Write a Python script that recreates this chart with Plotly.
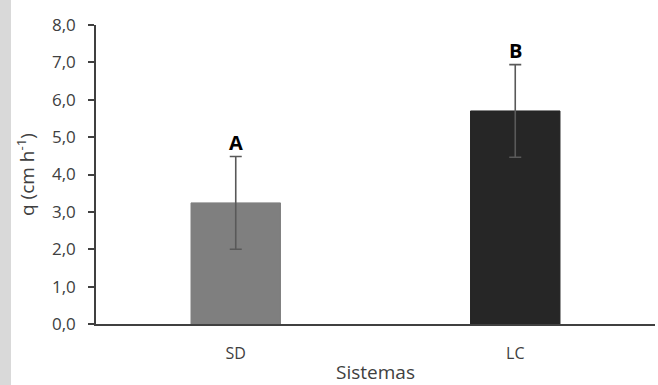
import plotly.graph_objects as go

categories = ["SD", "LC"]
values = [3.24, 5.70]
errors = [1.24, 1.24]
letters = ["A", "B"]
colors = ["#7f7f7f", "#262626"]
y_ticks = [0, 1, 2, 3, 4, 5, 6, 7, 8]
y_tick_labels = ["0,0", "1,0", "2,0", "3,0", "4,0", "5,0", "6,0", "7,0", "8,0"]

fig = go.Figure()
fig.add_trace(go.Bar(
    x=categories, y=values,
    marker=dict(color=colors, line=dict(color=colors, width=1)),
    width=0.32,
    error_y=dict(type="data", array=errors, visible=True,
                 color="#595959", thickness=1.6, width=6),
    showlegend=False,
))

for c, v, e, t in zip(categories, values, errors, letters):
    fig.add_annotation(x=c, y=v + e, text="<b>%s</b>" % t, showarrow=False,
                       yanchor="bottom", yshift=-1,
                       font=dict(size=20, color="#000000", family="Open Sans"))

fig.add_shape(type="rect", xref="paper", yref="paper",
              x0=-96 / 559, x1=-85 / 559, y0=-61 / 299, y1=1 + 25 / 299,
              fillcolor="#d9d9d9", line=dict(width=0), layer="below")

fig.update_layout(
    width=658, height=385,
    margin=dict(l=96, r=3, t=25, b=61),
    paper_bgcolor="white", plot_bgcolor="white",
    font=dict(family="Open Sans", color="#404040", size=16),
    xaxis=dict(
        title=dict(text="Sistemas", font=dict(size=19, color="#404040"), standoff=3),
        showline=True, linecolor="#404040", linewidth=1.5,
        ticks="", showgrid=False, tickfont=dict(size=16, color="#404040"),
        ticklabelstandoff=14,
    ),
    yaxis=dict(
        title=dict(text="q (cm h<sup>-1</sup>)", font=dict(size=19, color="#404040"), standoff=12),
        range=[0, 8], tickvals=y_ticks, ticktext=y_tick_labels,
        showline=True, linecolor="#404040", linewidth=1.5,
        ticks="outside", ticklen=6, tickcolor="#404040", tickwidth=1.5,
        showgrid=False, zeroline=False, tickfont=dict(size=17, color="#404040"),
        ticklabelstandoff=9,
    ),
)

fig.write_html("out.html", config={"displayModeBar": False},
               post_script="document.body.style.margin='0px';document.body.style.overflow='hidden';")
